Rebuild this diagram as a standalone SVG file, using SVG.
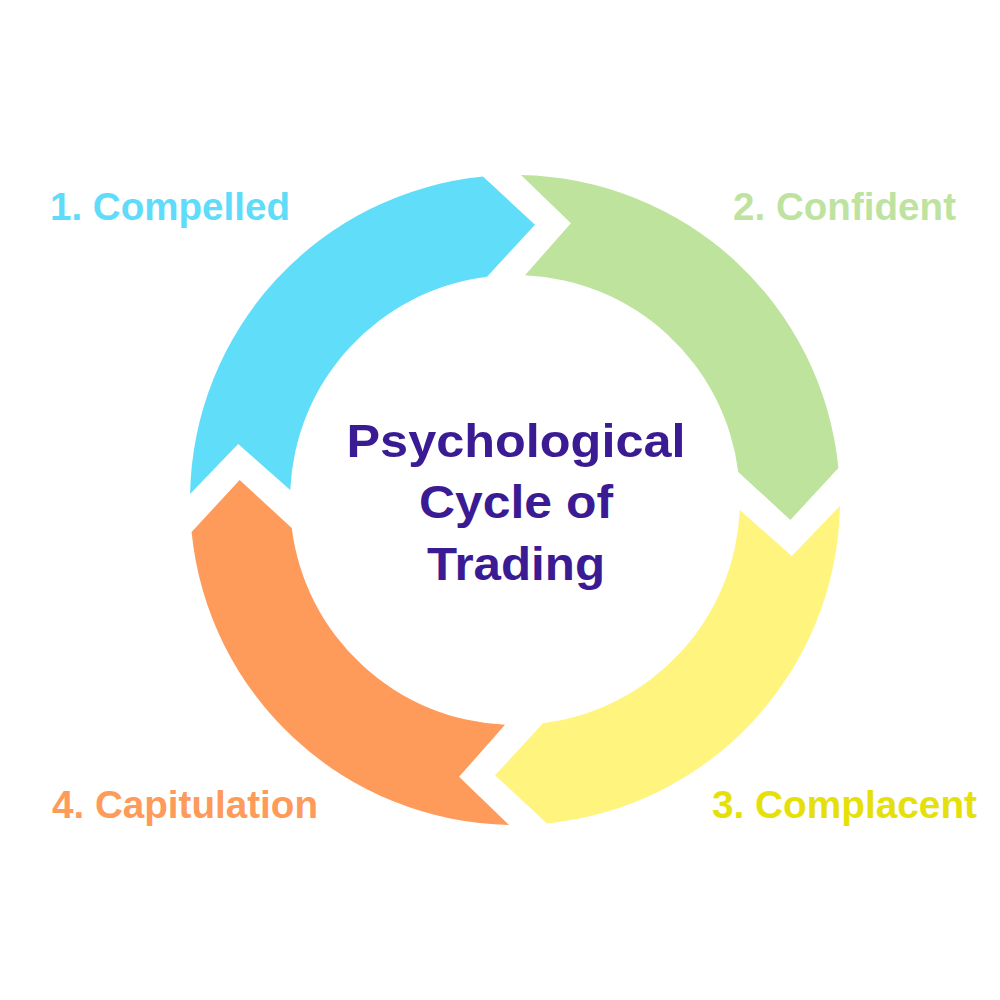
<svg xmlns="http://www.w3.org/2000/svg" width="1000" height="1000" viewBox="0 0 1000 1000">
  <style>
    .lbl { font-family: "Liberation Sans", Arial, sans-serif; font-weight: bold; font-size: 39px; }
    .title { font-family: "Liberation Sans", Arial, sans-serif; font-weight: bold; font-size: 46px; fill: #3A1B93; text-anchor: middle; }
  </style>
  <defs>
    <path id="arc-arrow" d="M -324.44 -19 L -274.34 -67 L -224.2 -19 A 225 225 0 0 1 -19 -224.2 L 31 -274.34 L -19 -324.44 A 325 325 0 0 0 -324.44 -19 Z"/>
  </defs>
  <rect width="1000" height="1000" fill="#FFFFFF"/>
  <g id="ring" transform="translate(515,500) rotate(-2.3)">
    <g id="node-compelled-arrow"><use href="#arc-arrow" fill="#60DDF9"/></g>
    <g id="node-confident-arrow"><use href="#arc-arrow" fill="#BEE39D" transform="rotate(90)"/></g>
    <g id="node-complacent-arrow"><use href="#arc-arrow" fill="#FEF47E" transform="rotate(180)"/></g>
    <g id="node-capitulation-arrow"><use href="#arc-arrow" fill="#FE9A5A" transform="rotate(270)"/></g>
  </g>
  <g id="node-compelled"><text class="lbl" x="50" y="220" fill="#5EDCF9" textLength="240" lengthAdjust="spacingAndGlyphs">1. Compelled</text></g>
  <g id="node-confident"><text class="lbl" x="733" y="220" fill="#BEE3A0" textLength="223" lengthAdjust="spacingAndGlyphs">2. Confident</text></g>
  <g id="node-complacent"><text class="lbl" x="712" y="818" fill="#E5E00A" textLength="265" lengthAdjust="spacingAndGlyphs">3. Complacent</text></g>
  <g id="node-capitulation"><text class="lbl" x="52" y="818" fill="#FE9A5A" textLength="266" lengthAdjust="spacingAndGlyphs">4. Capitulation</text></g>
  <g id="node-title">
    <text class="title" x="516" y="457" textLength="339" lengthAdjust="spacingAndGlyphs">Psychological</text>
    <text class="title" x="516" y="518" textLength="194" lengthAdjust="spacingAndGlyphs">Cycle of</text>
    <text class="title" x="516" y="580" textLength="178" lengthAdjust="spacingAndGlyphs">Trading</text>
  </g>
  <g id="connectors"></g>
</svg>
